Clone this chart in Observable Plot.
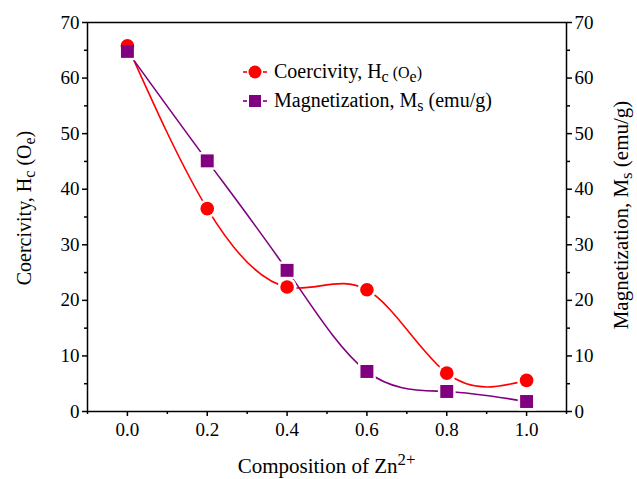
<!DOCTYPE html>
<html>
<head>
<meta charset="utf-8">
<script src="https://cdn.jsdelivr.net/npm/d3@7"></script>
<script src="https://cdn.jsdelivr.net/npm/@observablehq/plot@0.6"></script>
<style>
  html, body { margin: 0; padding: 0; background: #fff; }
  #chart svg { display: block; }
  #chart svg text { font-family: "Liberation Serif", "Times New Roman", serif; }
</style>
</head>
<body>
<div id="chart"></div>
<script>
// ---- data ----
const composition = [0.0, 0.2, 0.4, 0.6, 0.8, 1.0];
const coercivity = [65.8, 36.5, 22.4, 21.9, 6.9, 5.6];
const magnetization = [64.8, 45.1, 25.4, 7.2, 3.6, 1.8];
const xTicks = [0.0, 0.2, 0.4, 0.6, 0.8, 1.0];
const xMinorTicks = [-0.1, 0.1, 0.3, 0.5, 0.7, 0.9, 1.1];
const yTicks = [0, 10, 20, 30, 40, 50, 60, 70];
const yMinorTicks = [5, 15, 25, 35, 45, 55, 65];

const hcData = composition.map((c, i) => ({x: c, y: coercivity[i]}));
const msData = composition.map((c, i) => ({x: c, y: magnetization[i]}));

const RED = "#ff0000";
const PURPLE = "#800080";
const FONT = "'Liberation Serif', 'Times New Roman', serif";
const TICKFONT = 19;

const svg = Plot.plot({
  width: 637,
  height: 479,
  marginLeft: 87,
  marginRight: 71,
  marginTop: 22,
  marginBottom: 68,
  style: {fontFamily: FONT, fontSize: "19px", color: "black", background: "white", overflow: "visible"},
  x: {domain: [-0.1, 1.1]},
  y: {domain: [0, 70]},
  marks: [
    Plot.axisX(xTicks, {tickSize: 5, tickPadding: 6, tickFormat: d => d.toFixed(1), label: null, strokeWidth: 1.5, fontFamily: FONT, fontSize: TICKFONT}),
    Plot.axisX(xMinorTicks, {tickSize: 3, text: null, label: null, strokeWidth: 1.5}),
    Plot.axisY(yTicks, {anchor: "left", tickSize: 5, tickPadding: 3, label: null, strokeWidth: 1.5, fontFamily: FONT, fontSize: TICKFONT}),
    Plot.axisY(yMinorTicks, {anchor: "left", tickSize: 3, text: null, label: null, strokeWidth: 1.5}),
    Plot.axisY(yTicks, {anchor: "right", tickSize: 5, tickPadding: 3, label: null, strokeWidth: 1.5, fontFamily: FONT, fontSize: TICKFONT}),
    Plot.axisY(yMinorTicks, {anchor: "right", tickSize: 3, text: null, label: null, strokeWidth: 1.5}),
    Plot.frame({stroke: "black", strokeWidth: 1.5}),
    Plot.line(hcData, {x: "x", y: "y", stroke: RED, strokeWidth: 1.6, curve: "natural"}),
    Plot.line(msData, {x: "x", y: "y", stroke: PURPLE, strokeWidth: 1.6, curve: "natural"}),
    Plot.dot(hcData, {x: "x", y: "y", r: 9.5, fill: "white", stroke: "none"}),
    Plot.dot(msData, {x: "x", y: "y", symbol: "square", r: 10, fill: "white", stroke: "none"}),
    Plot.dot(hcData, {x: "x", y: "y", r: 6.8, fill: RED, stroke: "none"}),
    Plot.dot(msData, {x: "x", y: "y", symbol: "square", r: 7.3, fill: PURPLE, stroke: "none"})
  ]
});

document.getElementById("chart").appendChild(svg);

// ---- titles and legend (rich text with sub/superscripts) ----
const s = d3.select(svg);
const g = s.append("g").attr("font-family", FONT).attr("fill", "black").attr("text-anchor", "start");

function rich(sel, parts) {
  parts.forEach(p => {
    const t = sel.append("tspan").text(p.t);
    if (p.sub) t.attr("baseline-shift", "-25%").attr("font-size", p.size || "80%");
    if (p.sup) t.attr("baseline-shift", "45%").attr("font-size", p.size || "80%");
    if (p.small) t.attr("font-size", p.small);
  });
  return sel;
}

// x axis title
rich(g.append("text")
  .attr("x", 326.5).attr("y", 473)
  .attr("text-anchor", "middle").attr("font-size", 21),
  [{t: "Composition of Zn"}, {t: "2+", sup: true}]);

// left axis title
rich(g.append("text")
  .attr("transform", "translate(31,208) rotate(-90)")
  .attr("text-anchor", "middle").attr("font-size", 20),
  [{t: "Coercivity, H"}, {t: "c", sub: true}, {t: " (O"}, {t: "e", sub: true}, {t: ")"}]);

// right axis title
rich(g.append("text")
  .attr("transform", "translate(628,215) rotate(-90)")
  .attr("text-anchor", "middle").attr("font-size", 21),
  [{t: "Magnetization, M"}, {t: "s", sub: true}, {t: " (emu/g)"}]);

// legend
const legendRows = [
  {y: 72, color: RED, symbol: "circle",
   parts: [{t: "Coercivity, H"}, {t: "c", sub: true}, {t: " (O", small: "16px"}, {t: "e", sub: true}, {t: ")", small: "16px"}]},
  {y: 101, color: PURPLE, symbol: "square",
   parts: [{t: "Magnetization, M"}, {t: "s", sub: true}, {t: " (emu/g)"}]}
];
legendRows.forEach(r => {
  g.append("line").attr("x1", 243).attr("x2", 267).attr("y1", r.y).attr("y2", r.y)
    .attr("stroke", r.color).attr("stroke-width", 1.6);
  g.append("rect").attr("x", 247).attr("y", r.y - 2).attr("width", 16).attr("height", 4).attr("fill", "white");
  if (r.symbol === "circle") {
    g.append("circle").attr("cx", 255).attr("cy", r.y).attr("r", 6.5).attr("fill", r.color);
  } else {
    g.append("rect").attr("x", 249).attr("y", r.y - 6).attr("width", 12).attr("height", 12).attr("fill", r.color);
  }
  rich(g.append("text").attr("x", 274).attr("y", r.y + 6).attr("font-size", 20).attr("text-anchor", "start"), r.parts);
});
</script>
</body>
</html>
